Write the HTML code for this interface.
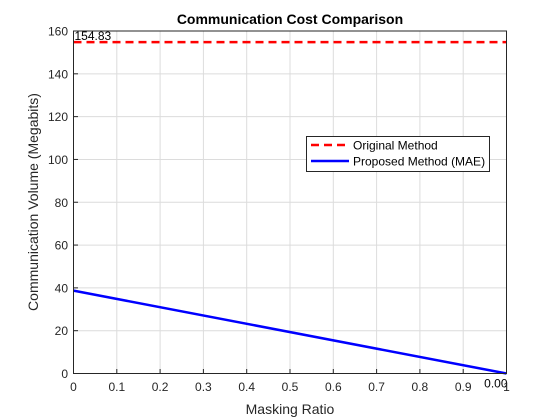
<!DOCTYPE html>
<html><head><meta charset="utf-8"><style>
body{margin:0;background:#fff}
svg{font-family:"Liberation Sans",Arial,sans-serif;display:block}
</style></head><body>
<svg id="c" width="560" height="420" viewBox="0 0 560 420">
<rect width="560" height="420" fill="#fff"/>
<g id="grid"></g>
<g id="marks"></g>
<rect x="73.5" y="31" width="433" height="342.5" fill="none" stroke="#262626" stroke-width="1"/>
<g id="ticks"></g>
<text x="290" y="24" text-anchor="middle" font-size="14" font-weight="bold" fill="#000">Communication Cost Comparison</text>
<text x="290" y="414" text-anchor="middle" font-size="14" fill="#262626">Masking Ratio</text>
<text transform="translate(38,202) rotate(-90)" text-anchor="middle" font-size="14" fill="#262626">Communication Volume (Megabits)</text>
<g>
<rect x="306.5" y="136.5" width="183" height="35" fill="#fff" stroke="#262626" stroke-width="1"/>
<line x1="311" y1="145" x2="349" y2="145" stroke="#ff0000" stroke-width="2.5" stroke-dasharray="8,5"/>
<text x="353" y="149.5" font-size="12" fill="#000">Original Method</text>
<line x1="311" y1="161" x2="349" y2="161" stroke="#0000ff" stroke-width="2.5"/>
<text x="353" y="165.5" font-size="12" fill="#000">Proposed Method (MAE)</text>
</g>
</svg>
<script>
const xTicks=[0,0.1,0.2,0.3,0.4,0.5,0.6,0.7,0.8,0.9,1];
const xTickLabels=["0","0.1","0.2","0.3","0.4","0.5","0.6","0.7","0.8","0.9","1"];
const yTicks=[0,20,40,60,80,100,120,140,160];
const maskRatios=[0,1];
const originalValues=[154.83,154.83];
const proposedValues=[38.7,0];
const annotations=["154.83","0.00"];
const NS="http://www.w3.org/2000/svg";
const X=v=>73.5+v*433, Y=v=>373.5-v*(342.5/160);
function mk(t,a,p){const e=document.createElementNS(NS,t);for(const k in a)e.setAttribute(k,a[k]);p.appendChild(e);return e;}
const grid=document.getElementById('grid'),ticks=document.getElementById('ticks'),marks=document.getElementById('marks');
xTicks.forEach((v,i)=>{
 const g=mk('line',{x1:X(v),x2:X(v),y1:31,y2:373.5,stroke:'#dcdcdc','stroke-width':1},grid);
 
 
 const t=mk('line',{x1:X(v),x2:X(v),y1:373.5,y2:369,stroke:'#262626'},ticks);
 
 
 const l=mk('text',{x:X(v),y:391,'text-anchor':'middle','font-size':12,fill:'#262626'},ticks);
 l.textContent=xTickLabels[i];
 
 
});
yTicks.forEach(v=>{
 const g=mk('line',{x1:73.5,x2:506.5,y1:Y(v),y2:Y(v),stroke:'#dcdcdc','stroke-width':1},grid);
 
 
 const t=mk('line',{x1:73.5,x2:78,y1:Y(v),y2:Y(v),stroke:'#262626'},ticks);
 
 
 const l=mk('text',{x:68,y:Y(v)+4.5,'text-anchor':'end','font-size':12,fill:'#262626'},ticks);
 l.textContent=String(v);
 
 
});
const o=mk('polyline',{points:maskRatios.map((x,i)=>X(x)+','+Y(originalValues[i])).join(' '),fill:'none',stroke:'#ff0000','stroke-width':2.5,'stroke-dasharray':'8,5'},marks);


const p=mk('polyline',{points:maskRatios.map((x,i)=>X(x)+','+Y(proposedValues[i])).join(' '),fill:'none',stroke:'#0000ff','stroke-width':2.5},marks);


const a1=mk('text',{x:X(maskRatios[0])+1,y:Y(originalValues[0])-2,'font-size':12,fill:'#000'},marks);
a1.textContent=annotations[0];


const a2=mk('text',{x:X(maskRatios[1])+1,y:Y(proposedValues[1])+14,'text-anchor':'end','font-size':12,fill:'#000'},marks);
a2.textContent=annotations[1];


</script>
</body></html>
